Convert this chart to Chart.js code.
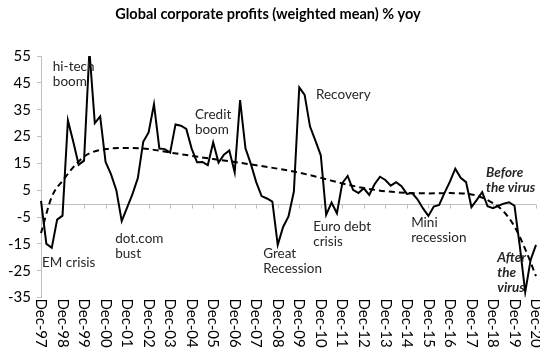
<!DOCTYPE html>
<html>
<head>
    <title>Global corporate profits</title>
    <script src="https://cdn.jsdelivr.net/npm/chart.js"></script>
    <style>
        body { margin: 0; background: #fff; }
        #chartContainer { width: 540px; height: 353px; }
    </style>
</head>
<body>
    <div id="chartContainer">
        <canvas id="myChart"></canvas>
    </div>

    <script>
        // year labels shown on the x axis (one every 4 quarters)
        const years = ['Dec-97', 'Dec-98', 'Dec-99', 'Dec-00', 'Dec-01', 'Dec-02', 'Dec-03', 'Dec-04',
            'Dec-05', 'Dec-06', 'Dec-07', 'Dec-08', 'Dec-09', 'Dec-10', 'Dec-11', 'Dec-12',
            'Dec-13', 'Dec-14', 'Dec-15', 'Dec-16', 'Dec-17', 'Dec-18', 'Dec-19', 'Dec-20'];

        // quarterly profit growth, % yoy, Dec-97 .. Dec-20
        const profits = [
            1, -15, -16.5, -6, -4.5, 31, 23, 14.5,
            16, 57, 30, 32.5, 15.5, 11, 5, -6.5,
            -1.5, 3.5, 9.5, 23, 26.5, 37, 20.5, 20.3,
            19, 29.5, 29, 27.8, 20.5, 15.4, 15.5, 14.3,
            22.8, 15.3, 18.2, 19.8, 11.6, 38.6, 20.6, 14.8,
            8, 2.8, 1.9, 0.7, -15.4, -8.7, -4.8, 4.5,
            43.3, 40.5, 28.7, 23.5, 18, -4.2, 0.4, -3.6,
            7.6, 10.3, 5.1, 3.9, 5.7, 3.2, 7.2, 10,
            8.8, 6.7, 8, 6.5, 3.6, 3.9, 1.5, -1.8,
            -4.6, -1.1, -0.5, 4, 8.2, 13, 9.6, 8,
            -1.3, 1.4, 4.3, -1, -1.7, -0.8, 0, 0.5,
            -0.8, -16, -33, -21, -15.4
        ];

        // dashed trend, read at these quarter positions
        const trendAt = [0, 2, 4, 8, 12, 16, 20, 24, 28, 32, 36, 40, 44, 48, 52, 56, 60, 64, 68, 72, 76, 80, 84, 86, 88, 90, 92];
        const trendValues = [-11, 2.5, 8.5, 17.5, 20.3, 20.7, 20.3, 19, 17.8, 16.6, 15.5, 14.3, 13, 11.5, 9.6, 7.5, 5.8, 4.6, 4, 3.8, 3.9, 3.4, 0.2, -3, -8.5, -17, -27];

        const months = ['Dec', 'Mar', 'Jun', 'Sep'];
        const labels = profits.map((v, i) => {
            const yr = (97 + Math.ceil(i / 4)) % 100;
            return months[i % 4] + '-' + String(yr).padStart(2, '0');
        });
        const trend = profits.map(() => null);
        trendAt.forEach((q, k) => { trend[q] = trendValues[k]; });

        // event notes: quarter index, y value, lines
        const notes = [
            { q: 2.2, y: 50.9, lines: ['hi-tech', 'boom'] },
            { q: 0.2, y: -22, lines: ['EM crisis'] },
            { q: 13.8, y: -13.1, lines: ['dot.com', 'bust'] },
            { q: 28.6, y: 33.1, lines: ['Credit', 'boom'] },
            { q: 41.3, y: -18.7, lines: ['Great', 'Recession'] },
            { q: 51.1, y: 40.5, lines: ['Recovery'] },
            { q: 50.6, y: -8.6, lines: ['Euro debt', 'crisis'] },
            { q: 68.8, y: -7.1, lines: ['Mini', 'recession'] },
            { q: 82.7, y: 11.5, lines: ['Before', 'the virus'], bold: true },
            { q: 84.8, y: -20.2, lines: ['After', 'the', 'virus'], bold: true }
        ];

        const FONT = 'Lato, sans-serif';

        const extras = {
            id: 'extras',
            beforeDatasetsDraw(chart) {
                const { ctx, chartArea, scales: { x, y } } = chart;
                const y0 = Math.round(y.getPixelForValue(0)) + 0.5;
                ctx.save();
                ctx.strokeStyle = '#bfbfbf';
                ctx.lineWidth = 1;
                ctx.beginPath();
                ctx.moveTo(chartArea.left, y0);
                ctx.lineTo(chartArea.right, y0);
                years.forEach((yr, k) => {
                    const px = Math.round(x.getPixelForValue(k * 4)) + 0.5;
                    ctx.moveTo(px, y0);
                    ctx.lineTo(px, y0 + 4);
                });
                ctx.stroke();
                ctx.restore();
            },
            afterDraw(chart) {
                const { ctx, chartArea, scales: { x, y } } = chart;
                ctx.save();
                ctx.fillStyle = '#000';
                ctx.font = '15px ' + FONT;
                ctx.textAlign = 'left';
                ctx.textBaseline = 'middle';
                years.forEach((yr, k) => {
                    const px = x.getPixelForValue(k * 4);
                    ctx.save();
                    ctx.translate(px, chartArea.bottom + 1);
                    ctx.rotate(Math.PI / 2);
                    ctx.fillText(yr, 0, 0);
                    ctx.restore();
                });

                ctx.fillStyle = '#262626';
                notes.forEach(n => {
                    ctx.font = (n.bold ? 'italic bold ' : '') + '13.5px ' + FONT;
                    const px = x.getPixelForValue(n.q);
                    const py = y.getPixelForValue(n.y);
                    n.lines.forEach((t, j) => ctx.fillText(t, px, py + j * 15));
                });
                ctx.restore();
            }
        };

        const ctx = document.getElementById('myChart').getContext('2d');
        new Chart(ctx, {
            type: 'line',
            data: {
                labels: labels,
                datasets: [{
                    data: profits,
                    borderColor: '#000',
                    borderWidth: 2,
                    pointRadius: 0,
                    tension: 0
                }, {
                    data: trend,
                    borderColor: '#000',
                    borderWidth: 2,
                    borderDash: [6, 4],
                    pointRadius: 0,
                    spanGaps: true,
                    cubicInterpolationMode: 'monotone'
                }]
            },
            options: {
                responsive: true,
                maintainAspectRatio: false,
                animation: false,
                layout: { padding: { left: 0, right: 4, bottom: 55.5 } },
                plugins: {
                    legend: { display: false },
                    tooltip: { enabled: false },
                    title: {
                        display: true,
                        text: 'Global corporate profits (weighted mean) % yoy',
                        color: '#000',
                        font: { family: FONT, size: 14.5, weight: 'bold' },
                        padding: { top: 6, bottom: 32.6 }
                    }
                },
                scales: {
                    x: {
                        display: false,
                        offset: false
                    },
                    y: {
                        min: -35,
                        max: 55,
                        afterFit(scale) { scale.width = 41; },
                        ticks: {
                            stepSize: 10,
                            color: '#000',
                            padding: 6,
                            font: { family: FONT, size: 15 }
                        },
                        grid: {
                            drawOnChartArea: false,
                            color: '#bfbfbf',
                            tickLength: 4
                        },
                        border: { color: '#bfbfbf' }
                    }
                }
            },
            plugins: [extras]
        });
    </script>
</body>
</html>
